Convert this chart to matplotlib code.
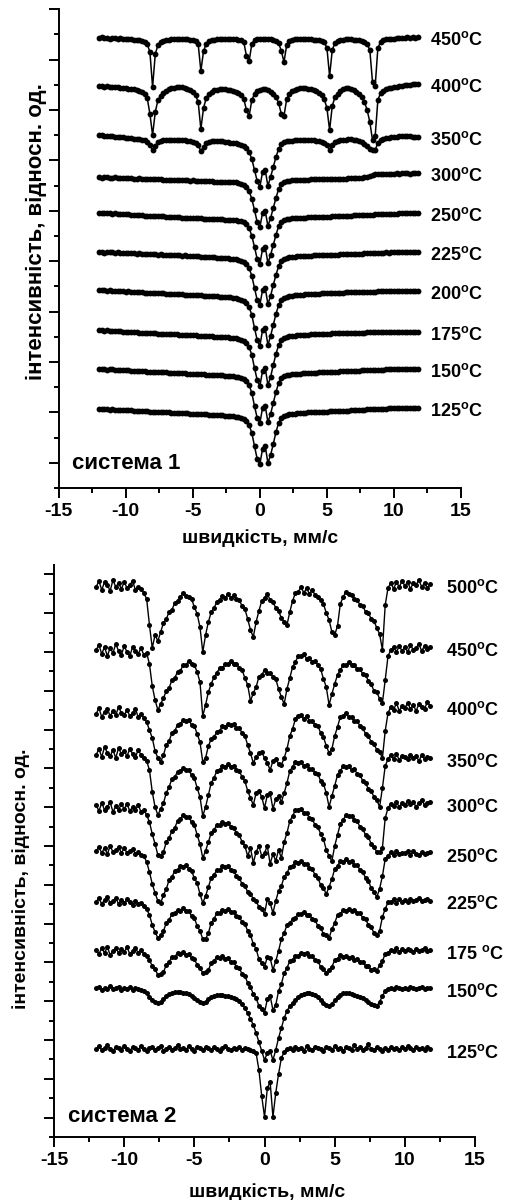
import numpy as np
import matplotlib
matplotlib.use('Agg')
import matplotlib.pyplot as plt

plt.rcParams['font.family'] = ['Liberation Sans', 'DejaVu Sans']
plt.rcParams['font.weight'] = 'bold'
plt.rcParams['axes.unicode_minus'] = False
plt.rcParams['mathtext.fontset'] = 'custom'
plt.rcParams['mathtext.rm'] = 'Liberation Sans:bold'
plt.rcParams['mathtext.bf'] = 'Liberation Sans:bold'

# velocity channels, mm/s (-12.0 ... 11.8, step 0.2)
velocity = np.linspace(-12.0, 11.8, 120)

# ---- system 1: absorption (a.u.), one row = 2 mm/s
t450 = [0, -1, 0, 0, 1, 0, 0, 1, 0, 1,
        1, 1, 1, 2, 2, 2, 3, 4, 6, 14,
        49, 16, 7, 4, 3, 2, 2, 1, 1, 1,
        1, 1, 1, 1, 2, 2, 3, 6, 33, 13,
        6, 3, 2, 2, 1, 1, 1, 1, 1, 1,
        1, 1, 2, 2, 4, 18, 23, 6, 2, 1,
        1, 1, 1, 1, 1, 2, 3, 5, 13, 24,
        7, 3, 2, 1, 1, 1, 1, 1, 1, 1,
        2, 2, 2, 3, 4, 10, 38, 12, 5, 3,
        2, 2, 1, 1, 1, 2, 2, 2, 3, 4,
        6, 12, 44, 48, 10, 4, 2, 1, 1, 1,
        1, 0, 0, 0, 0, -1, 0, -1, 0, -1]
t400 = [0, 0, 1, 0, 1, 1, 1, 1, 2, 2,
        2, 3, 3, 3, 4, 5, 6, 8, 12, 28,
        49, 26, 14, 10, 7, 5, 3, 2, 2, 1,
        1, 1, 2, 3, 4, 6, 9, 16, 43, 22,
        12, 8, 6, 4, 4, 3, 3, 3, 4, 4,
        5, 6, 7, 9, 13, 24, 30, 14, 8, 5,
        4, 3, 3, 4, 6, 8, 11, 17, 28, 30,
        13, 8, 5, 4, 3, 2, 2, 2, 3, 3,
        4, 5, 7, 9, 13, 22, 44, 20, 11, 8,
        5, 3, 2, 2, 3, 4, 6, 8, 11, 16,
        24, 36, 54, 50, 14, 7, 5, 3, 2, 2,
        1, 1, 0, 0, -1, -1, -1, -2, -2, -2]
t350 = [0, 0, 1, 1, 1, 1, 2, 2, 2, 2,
        3, 3, 3, 4, 4, 4, 5, 5, 7, 10,
        15, 11, 7, 6, 5, 5, 5, 5, 5, 5,
        5, 5, 5, 6, 6, 7, 8, 10, 16, 12,
        8, 7, 6, 6, 6, 6, 6, 7, 7, 8,
        8, 8, 9, 10, 11, 13, 17, 24, 35, 46,
        52, 37, 35, 51, 42, 32, 22, 14, 9, 7,
        6, 6, 6, 5, 5, 5, 5, 5, 5, 5,
        5, 6, 6, 7, 8, 10, 15, 10, 7, 6,
        5, 5, 5, 4, 4, 5, 5, 6, 7, 9,
        11, 14, 15, 15, 8, 5, 4, 3, 3, 2,
        2, 2, 1, 1, 1, 1, 1, 2, 2, 2]
t300 = [0, 1, 0, 0, 1, 1, 0, 1, 1, 1,
        1, 1, 1, 2, 2, 1, 2, 2, 2, 2,
        2, 2, 2, 2, 3, 3, 3, 3, 3, 3,
        3, 3, 3, 3, 4, 3, 4, 4, 4, 4,
        4, 4, 4, 5, 5, 5, 5, 5, 5, 5,
        5, 5, 6, 7, 8, 10, 14, 22, 33, 45,
        50, 36, 34, 49, 41, 31, 21, 12, 7, 5,
        4, 4, 3, 3, 3, 3, 3, 3, 3, 2,
        2, 2, 2, 2, 2, 2, 2, 2, 2, 2,
        2, 2, 2, 1, 1, 1, 1, 1, 1, 0,
        0, -1, -2, -3, -3, -3, -3, -3, -3, -3,
        -3, -4, -3, -4, -4, -4, -3, -4, -4, -4]
t250 = [0, 0, 0, 0, 0, 1, 0, 1, 1, 1,
        1, 1, 2, 2, 2, 2, 2, 3, 3, 3,
        3, 3, 3, 3, 3, 4, 4, 4, 4, 4,
        4, 5, 5, 5, 5, 5, 5, 5, 5, 6,
        6, 6, 6, 6, 6, 6, 6, 7, 7, 7,
        7, 7, 8, 8, 9, 11, 15, 23, 34, 46,
        51, 36, 34, 50, 42, 32, 22, 13, 9, 7,
        6, 6, 5, 5, 5, 5, 5, 5, 4, 4,
        4, 4, 4, 4, 4, 4, 4, 3, 3, 3,
        3, 3, 3, 3, 3, 2, 2, 2, 2, 2,
        2, 2, 2, 1, 1, 1, 1, 1, 1, 1,
        1, 1, 0, 0, 0, 0, 0, 0, 0, 0]
t225 = [0, 0, 1, 0, 0, 0, 1, 0, 1, 1,
        1, 1, 1, 1, 2, 1, 2, 2, 2, 2,
        2, 2, 3, 2, 3, 3, 3, 3, 3, 3,
        3, 4, 3, 4, 4, 4, 4, 4, 5, 5,
        5, 5, 5, 5, 6, 6, 6, 6, 6, 7,
        7, 7, 8, 9, 10, 12, 16, 24, 36, 48,
        53, 38, 36, 52, 44, 33, 23, 14, 9, 7,
        6, 5, 5, 5, 4, 4, 4, 4, 4, 4,
        3, 3, 3, 3, 3, 3, 3, 3, 3, 3,
        2, 2, 2, 2, 2, 2, 2, 2, 2, 1,
        1, 1, 1, 1, 1, 1, 1, 0, 1, 0,
        0, 0, 0, 0, 0, 0, 0, 0, 0, 0]
t200 = [0, 0, 0, 1, 0, 1, 1, 1, 1, 1,
        2, 1, 2, 2, 2, 2, 2, 3, 3, 3,
        3, 3, 3, 3, 3, 4, 4, 4, 4, 4,
        4, 4, 5, 5, 5, 5, 5, 5, 5, 6,
        6, 6, 6, 6, 6, 7, 7, 7, 7, 7,
        8, 8, 9, 10, 11, 13, 17, 25, 38, 50,
        56, 40, 38, 55, 46, 35, 24, 15, 10, 8,
        7, 6, 6, 5, 5, 5, 5, 4, 4, 4,
        4, 4, 4, 3, 3, 3, 3, 3, 3, 3,
        3, 3, 2, 2, 2, 2, 2, 2, 2, 2,
        2, 2, 2, 2, 1, 1, 1, 1, 1, 1,
        1, 1, 1, 1, 1, 1, 1, 1, 1, 1]
t175 = [0, 0, 1, 0, 1, 1, 1, 1, 1, 2,
        2, 2, 2, 2, 2, 3, 3, 3, 3, 3,
        3, 3, 4, 4, 4, 4, 4, 4, 4, 4,
        5, 5, 5, 5, 5, 5, 5, 6, 6, 6,
        6, 6, 6, 7, 7, 7, 7, 7, 7, 8,
        8, 8, 9, 10, 11, 13, 17, 25, 38, 50,
        56, 41, 38, 55, 47, 35, 24, 15, 10, 8,
        7, 6, 6, 6, 5, 5, 5, 5, 5, 4,
        4, 4, 4, 4, 4, 4, 4, 3, 3, 3,
        3, 3, 3, 3, 3, 3, 3, 3, 3, 3,
        2, 2, 2, 2, 2, 2, 2, 2, 2, 2,
        2, 2, 2, 2, 2, 2, 2, 2, 2, 2]
t150 = [0, 0, 0, 1, 0, 0, 1, 1, 1, 1,
        1, 1, 2, 2, 2, 2, 2, 2, 3, 3,
        3, 3, 3, 3, 3, 3, 4, 4, 4, 4,
        4, 4, 4, 5, 5, 5, 5, 5, 5, 5,
        6, 6, 6, 6, 6, 6, 6, 7, 7, 7,
        7, 8, 8, 9, 10, 12, 16, 24, 37, 49,
        54, 39, 37, 53, 45, 34, 23, 14, 9, 7,
        6, 6, 5, 5, 5, 5, 4, 4, 4, 4,
        4, 4, 3, 3, 3, 3, 3, 3, 3, 3,
        2, 2, 2, 2, 2, 2, 2, 2, 1, 1,
        1, 1, 1, 1, 1, 1, 1, 0, 0, 0,
        0, 0, 0, 0, 0, 0, 0, 0, 0, 0]
t125 = [0, 0, 0, 0, 1, 0, 1, 1, 1, 1,
        1, 1, 1, 2, 2, 2, 2, 2, 2, 3,
        3, 3, 3, 3, 3, 3, 3, 4, 4, 4,
        4, 4, 4, 4, 5, 5, 5, 5, 5, 5,
        5, 6, 6, 6, 6, 6, 6, 7, 7, 7,
        7, 8, 8, 9, 10, 12, 16, 24, 37, 50,
        55, 40, 37, 54, 46, 35, 23, 14, 9, 7,
        6, 5, 5, 5, 4, 4, 4, 4, 3, 3,
        3, 3, 3, 3, 3, 3, 2, 2, 2, 2,
        2, 2, 2, 2, 1, 1, 1, 1, 1, 1,
        0, 0, 0, 0, 0, 0, 0, 0, -1, -1,
        -1, -1, -1, -1, -1, -1, -1, -1, -1, -1]

temps_1 = ['450', '400', '350', '300', '250', '225', '200', '175', '150', '125']
spectra_1 = [t450, t400, t350, t300, t250, t225, t200, t175, t150, t125]
offsets_1 = [450, 402, 353, 311, 275, 236, 198, 158, 119, 79]

# ---- system 2
b500 = [2, -4, 5, -3, 0, 6, -5, 2, -2, 4,
        -3, 3, 0, -4, 5, 2, 4, 8, 14, 40,
        63, 50, 56, 47, 38, 34, 27, 25, 18, 16,
        12, 8, 11, 12, 14, 22, 29, 42, 67, 50,
        37, 27, 23, 17, 15, 11, 13, 9, 13, 10,
        14, 15, 21, 24, 34, 45, 52, 37, 26, 16,
        13, 9, 15, 17, 23, 26, 33, 37, 40, 27,
        16, 8, 7, 2, 8, 3, 9, 5, 10, 12,
        15, 19, 28, 35, 47, 50, 41, 19, 12, 7,
        9, 10, 14, 15, 20, 21, 27, 28, 34, 36,
        43, 49, 65, 20, 3, -2, 4, -3, 2, -4,
        1, -3, 4, -2, 0, -5, 2, -2, 3, -1]
b450 = [0, -5, 4, -3, 6, -2, 3, -6, 1, 5,
        -4, 2, 6, -3, 1, 4, -2, 5, 3, 14,
        36, 50, 60, 54, 48, 41, 38, 30, 28, 22,
        21, 15, 15, 11, 14, 15, 22, 32, 66, 55,
        42, 34, 27, 23, 18, 18, 14, 14, 11, 14,
        14, 18, 20, 28, 35, 51, 43, 37, 27, 25,
        20, 23, 23, 27, 29, 39, 47, 54, 39, 28,
        17, 12, 6, 6, 4, 9, 8, 12, 11, 15,
        19, 29, 37, 55, 44, 34, 25, 20, 15, 15,
        12, 15, 15, 19, 19, 24, 25, 31, 34, 41,
        42, 49, 53, 30, 6, 0, -3, 2, -4, 1,
        -3, 2, -5, 0, -2, -6, 1, -4, -1, -3]
b400 = [2, -4, 5, 0, -3, 4, -1, 3, -5, 1,
        3, -2, 4, 1, -3, 5, 2, 6, 10, 18,
        26, 39, 46, 50, 43, 33, 29, 21, 19, 13,
        12, 8, 9, 8, 13, 14, 22, 30, 50, 46,
        34, 27, 25, 20, 19, 14, 15, 12, 13, 12,
        16, 16, 21, 24, 33, 41, 51, 45, 41, 40,
        46, 51, 58, 49, 47, 52, 53, 46, 37, 24,
        17, 7, 4, 3, 7, 4, 9, 9, 13, 14,
        21, 25, 34, 41, 37, 24, 15, 5, 4, 1,
        5, 5, 9, 9, 14, 16, 22, 24, 30, 32,
        38, 40, 46, 19, 1, -5, -2, -9, -1, -6,
        -4, -9, -3, -7, -1, -8, -5, -3, -10, -6]
b350 = [3, -3, 5, -5, 1, 4, -2, 6, -4, 2,
        -1, 4, -3, 2, 5, -2, 3, 6, 9, 18,
        40, 55, 63, 57, 51, 41, 35, 27, 25, 20,
        19, 16, 18, 18, 23, 26, 36, 45, 64, 55,
        43, 31, 26, 19, 18, 14, 15, 12, 15, 14,
        18, 19, 25, 29, 39, 46, 53, 41, 39, 45,
        56, 43, 41, 57, 47, 44, 50, 41, 31, 19,
        15, 10, 11, 10, 14, 13, 17, 17, 21, 22,
        29, 32, 41, 55, 44, 34, 23, 19, 14, 15,
        14, 18, 17, 22, 23, 29, 31, 37, 39, 45,
        48, 55, 36, 14, 7, 3, 7, 2, 8, 4,
        5, 7, 3, 6, 4, 9, 3, 7, 5, 6]
b300 = [-2, 4, -4, 3, 0, -5, 5, -1, 3, -3,
        2, -3, 4, 0, 3, -2, 5, 3, 8, 15,
        27, 37, 48, 49, 45, 35, 31, 24, 21, 14,
        12, 8, 10, 10, 15, 18, 28, 37, 51, 44,
        35, 26, 23, 18, 18, 15, 17, 16, 20, 21,
        26, 28, 35, 39, 49, 41, 56, 45, 39, 49,
        46, 39, 57, 47, 54, 43, 51, 35, 26, 14,
        9, 3, 3, 2, 6, 6, 11, 12, 18, 20,
        27, 32, 43, 49, 54, 39, 28, 17, 13, 8,
        9, 9, 13, 14, 20, 22, 28, 30, 37, 40,
        45, 45, 41, 11, 1, -3, -1, -5, 0, -4,
        -2, -6, -3, -5, 0, -4, -7, -2, -4, -5]
b250 = [1, -3, 3, -2, 4, -4, 2, 0, -3, 3,
        -2, 3, 1, -1, 4, 2, 5, 6, 12, 22,
        34, 43, 51, 53, 45, 39, 30, 27, 21, 20,
        16, 17, 15, 19, 21, 28, 33, 44, 53, 46,
        37, 28, 25, 20, 20, 16, 17, 16, 20, 21,
        26, 28, 34, 36, 42, 44, 49, 51, 57, 59,
        64, 49, 53, 63, 51, 41, 36, 27, 23, 17,
        16, 12, 13, 11, 14, 14, 18, 19, 25, 28,
        35, 38, 44, 37, 29, 19, 16, 11, 12, 9,
        12, 11, 15, 15, 20, 22, 28, 31, 38, 42,
        47, 39, 26, 9, 6, 2, 5, 1, 4, 3,
        3, 1, 5, 1, 4, 5, 2, 4, 3, 2]
b225 = [2, -2, 4, 0, -3, 3, 1, -2, 4, 0,
        3, -1, 2, 5, 1, 4, 3, 6, 9, 15,
        25, 32, 38, 35, 31, 23, 20, 14, 13, 10,
        11, 8, 11, 11, 16, 18, 26, 31, 39, 39,
        33, 23, 19, 13, 13, 10, 11, 9, 12, 12,
        16, 17, 22, 24, 31, 35, 44, 49, 59, 63,
        67, 57, 58, 70, 61, 51, 39, 33, 25, 23,
        19, 18, 14, 14, 12, 15, 15, 19, 20, 26,
        28, 34, 35, 38, 29, 23, 15, 14, 10, 11,
        9, 11, 10, 13, 13, 18, 19, 25, 27, 33,
        35, 31, 17, 9, 2, 2, -1, 3, -1, 2,
        0, 2, -1, 1, 0, -2, 1, 0, -1, 1]
b175 = [0, 4, -2, 3, -3, 5, 1, -2, 3, -1,
        2, -3, 4, 1, -2, 3, 0, 4, 6, 10,
        16, 19, 25, 24, 22, 15, 12, 7, 7, 3,
        4, 2, 5, 4, 8, 9, 15, 18, 23, 22,
        20, 13, 11, 7, 8, 6, 9, 8, 12, 12,
        17, 18, 24, 26, 33, 37, 44, 48, 56, 59,
        63, 49, 46, 60, 55, 41, 34, 23, 18, 11,
        10, 6, 6, 3, 4, 3, 6, 6, 10, 11,
        17, 19, 23, 20, 17, 10, 9, 5, 7, 6,
        8, 7, 10, 9, 12, 12, 16, 16, 20, 19,
        21, 15, 11, 4, 3, 0, 1, -2, 2, -1,
        1, -1, 0, 2, -1, 1, 0, -2, 1, 0]
b150 = [0, -1, 2, 0, 1, -2, 1, 0, -1, 2,
        0, 1, -1, 2, 0, 1, 2, 3, 5, 9,
        12, 14, 15, 14, 11, 8, 6, 5, 4, 4,
        4, 5, 5, 6, 8, 10, 12, 14, 15, 14,
        11, 9, 8, 7, 7, 7, 8, 8, 9, 10,
        11, 13, 16, 20, 25, 31, 37, 45, 54, 63,
        72, 65, 63, 72, 62, 50, 40, 30, 23, 18,
        15, 12, 9, 7, 6, 5, 5, 6, 7, 9,
        12, 15, 17, 18, 16, 12, 9, 7, 5, 5,
        5, 6, 7, 8, 9, 10, 12, 14, 16, 17,
        18, 14, 8, 3, 1, 0, 1, -1, 0, 1,
        0, 1, -1, 0, 1, 0, -1, 1, 0, 0]
b125 = [1, -2, 2, 0, -3, 1, 3, -1, 0, 2,
        -2, 1, 3, -1, 0, 2, -2, 1, 3, 0,
        -1, 2, 0, -2, 3, 1, -1, 2, 0, -3,
        1, 0, 2, -2, 1, 3, -1, 0, 2, -1,
        0, 2, -1, 1, 3, 0, -2, 1, 2, 0,
        1, -1, 2, 0, 1, 2, 3, 5, 22, 48,
        69, 40, 34, 69, 45, 26, 10, 4, 1, 0,
        2, -1, 1, 0, 3, -2, 1, 2, -1, 0,
        1, 3, -1, 0, 2, -2, 1, 0, 3, -1,
        0, 2, -3, 1, -1, 2, 0, -4, 1, 2,
        -1, 1, 3, 0, 2, -1, 1, 0, 2, -1,
        1, -2, 0, 2, -1, 1, 0, 2, -1, 1]

temps_2 = ['500', '450', '400', '350', '300', '250', '225', '175 ', '150', '125']
spectra_2 = [b500, b450, b400, b350, b300, b250, b225, b175, b150, b125]
offsets_2 = [552, 487, 425, 385, 330, 287, 237, 187, 149, 89]


def style_axes(ax, ytop, ystep):
    ax.set_xlim(-15, 15)
    ax.set_ylim(0, ytop)
    for s in ['top', 'right']:
        ax.spines[s].set_visible(False)
    for s in ['left', 'bottom']:
        ax.spines[s].set_linewidth(1.4)
    ax.set_xticks([-15, -10, -5, 0, 5, 10, 15])
    ax.set_xticks(np.arange(-12.5, 15, 5), minor=True)
    ax.set_yticks(np.arange(ystep, ytop, 2 * ystep))
    ax.set_yticks(np.arange(0, ytop, 2 * ystep), minor=True)
    ax.set_yticklabels([])
    ax.tick_params(which='major', direction='out', length=7, width=1.4,
                   labelsize=14, pad=4)
    ax.tick_params(which='minor', direction='out', length=3.5, width=1.4)
    for lab in ax.get_xticklabels():
        lab.set_fontweight('bold')


fig = plt.figure(figsize=(5.12, 12), dpi=100)

# top panel
ax1 = fig.add_axes([0.1147, 0.5933, 0.7857, 0.3992])
for name, spec, off in zip(temps_1, spectra_1, offsets_1):
    y = off - np.array(spec)
    ax1.plot(velocity, y, '-o', color='black', lw=1.1, ms=4.2, mew=0)
    ax1.text(12.7, off - np.mean(spec[-5:]) - 3, name + r'$^{\mathbf{o}}$C',
             fontsize=13, fontweight='bold', ha='left', va='center')
style_axes(ax1, 479, 25.2)
ax1.text(-14.0, 25, 'система 1', fontsize=16, fontweight='bold',
         ha='left', va='center')

# bottom panel
ax2 = fig.add_axes([0.1055, 0.0525, 0.8223, 0.4767])
for name, spec, off in zip(temps_2, spectra_2, offsets_2):
    y = off - np.array(spec)
    ax2.plot(velocity, y, '-o', color='black', lw=1.0, ms=3.6, mew=0)
    ax2.text(12.9, off - np.mean(spec[-5:]) - 4, name + r'$^{\mathbf{o}}$C',
             fontsize=13, fontweight='bold', ha='left', va='center')
style_axes(ax2, 572, 19.4)
ax2.text(-14.0, 20, 'система 2', fontsize=16, fontweight='bold',
         ha='left', va='center')

# axis titles
fig.text(260 / 512, 1 - 538 / 1200, 'швидкість, мм/с', fontsize=14,
         fontweight='bold', ha='center', va='center')
fig.text(267 / 512, 1 - 1192 / 1200, 'швидкість, мм/с', fontsize=14,
         fontweight='bold', ha='center', va='center')
fig.text(36 / 512, 1 - 232 / 1200, 'інтенсивність, відносн. од.', fontsize=16,
         fontweight='bold', rotation=90, ha='center', va='center')
fig.text(21 / 512, 1 - 879 / 1200, 'інтенсивність, відносн. од.', fontsize=14,
         fontweight='bold', rotation=90, ha='center', va='center')

fig.savefig('out.png', dpi=100)
